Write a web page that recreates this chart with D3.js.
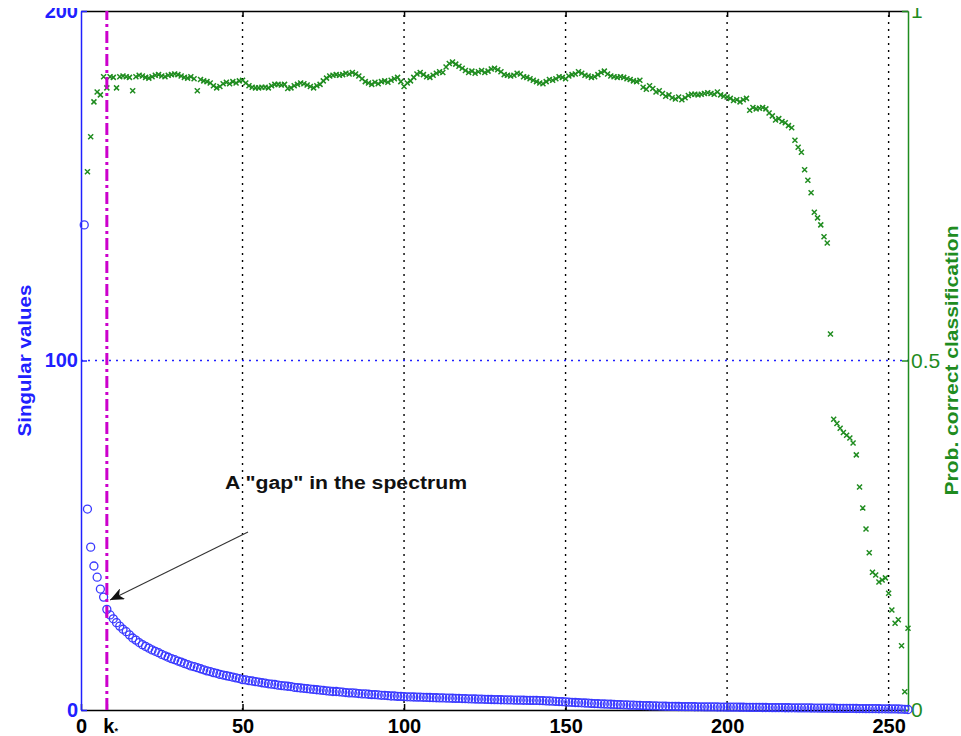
<!DOCTYPE html>
<html>
<head>
<meta charset="utf-8">
<script src="https://cdn.jsdelivr.net/npm/d3@7"></script>
<style>
  body { margin: 0; background: #fff; }
  text { font-family: "Liberation Sans", Arial, sans-serif; }
</style>
</head>
<body>
<div id="chart"></div>
<script>
// Singular values, index 1..256 (left axis)
const singularValues = [
  138.8, 57.5, 46.6, 41.2, 38.0, 34.6, 32.3, 28.8, 27.2, 26.1,
  25.0, 24.0, 23.1, 22.4, 21.5, 20.6, 20.0, 19.3, 18.7, 18.2,
  17.7, 17.2, 16.8, 16.4, 15.9, 15.5, 15.1, 14.7, 14.4, 14.0,
  13.7, 13.3, 13.0, 12.6, 12.4, 12.1, 11.8, 11.5, 11.2, 11.0,
  10.7, 10.5, 10.2, 10.0, 9.8, 9.6, 9.4, 9.2, 9.0, 8.7,
  8.6, 8.4, 8.3, 8.1, 8.0, 7.8, 7.7, 7.5, 7.4, 7.3,
  7.1, 7.0, 6.9, 6.8, 6.7, 6.5, 6.4, 6.3, 6.2, 6.1,
  6.0, 5.9, 5.8, 5.7, 5.6, 5.5, 5.4, 5.3, 5.3, 5.2,
  5.1, 5.0, 4.9, 4.9, 4.8, 4.7, 4.6, 4.6, 4.5, 4.4,
  4.4, 4.3, 4.2, 4.2, 4.1, 4.0, 4.0, 3.9, 3.9, 3.8,
  3.78, 3.75, 3.72, 3.69, 3.66, 3.63, 3.60, 3.57, 3.54, 3.51,
  3.48, 3.45, 3.42, 3.39, 3.36, 3.33, 3.30, 3.27, 3.24, 3.21,
  3.18, 3.15, 3.12, 3.09, 3.06, 3.03, 3.00, 2.97, 2.95, 2.93,
  2.91, 2.89, 2.87, 2.85, 2.83, 2.81, 2.79, 2.77, 2.76, 2.75,
  2.73, 2.70, 2.66, 2.62, 2.57, 2.52, 2.47, 2.42, 2.37, 2.32,
  2.25, 2.2, 2.15, 2.1, 2.05, 2.0, 1.95, 1.9, 1.85, 1.8,
  1.76, 1.72, 1.68, 1.64, 1.6, 1.56, 1.52, 1.48, 1.44, 1.4,
  1.37, 1.34, 1.31, 1.28, 1.25, 1.22, 1.19, 1.16, 1.13, 1.1,
  1.08, 1.06, 1.04, 1.02, 1.0, 0.98, 0.96, 0.95, 0.94, 0.93,
  0.92, 0.91, 0.9, 0.89, 0.88, 0.87, 0.86, 0.85, 0.84, 0.83,
  0.82, 0.81, 0.8, 0.79, 0.78, 0.77, 0.76, 0.75, 0.74, 0.73,
  0.72, 0.71, 0.7, 0.69, 0.68, 0.67, 0.66, 0.65, 0.64, 0.63,
  0.62, 0.61, 0.6, 0.59, 0.58, 0.57, 0.56, 0.55, 0.54, 0.53,
  0.52, 0.51, 0.5, 0.49, 0.48, 0.47, 0.46, 0.45, 0.44, 0.43,
  0.42, 0.41, 0.4, 0.39, 0.38, 0.37, 0.36, 0.35, 0.34, 0.33,
  0.32, 0.3, 0.28, 0.25, 0.2, 0.15
];

// Prob. correct classification, index 2..256 (right axis)
const probStart = 2;
const probCorrect = [
  .770, .820, .870, .884, .880, .906, .890, .906, .905, .890,
  .906, .907, .906, .905, .886, .906, .908, .907, .905,
  .904, .906, .908, .909, .907, .906, .908, .909, .910, .909,
  .907, .905, .904, .906, .903, .886, .902, .900, .899, .897,
  .893, .890, .892, .896, .898, .896, .899, .897, .900, .901,
  .897, .893, .891, .890, .890, .891, .891, .890, .893, .895,
  .895, .894, .895, .889, .890, .893, .895, .897, .896, .894,
  .892, .890, .893, .895, .900, .904, .907, .908, .909, .908,
  .909, .911, .910, .912, .910, .907, .903, .899, .897, .895,
  .898, .896, .899, .900, .898, .901, .903, .905, .899, .892,
  .897, .900, .905, .910, .912, .909, .906, .905, .908, .911,
  .913, .912, .920, .925, .927, .924, .921, .918, .915, .912,
  .914, .911, .913, .915, .912, .914, .917, .918, .916, .913,
  .909, .908, .907, .908, .911, .910, .906, .905, .903, .901,
  .899, .897, .896, .899, .902, .901, .903, .906, .905, .903,
  .907, .909, .910, .913, .911, .908, .907, .905, .906, .909,
  .912, .914, .910, .907, .906, .905, .906, .905, .903, .902,
  .900, .899, .901, .891, .888, .893, .889, .884, .886, .882,
  .878, .880, .876, .874, .877, .873, .876, .879, .881, .881,
  .880, .881, .882, .883, .882, .881, .884, .880, .878, .877,
  .875, .872, .873, .870, .873, .875, .858, .862, .860, .861,
  .862, .860, .854, .850, .844, .846, .842, .840, .836, .833,
  .815, .805, .798, .773, .758, .740, .712, .704, .694, .677,
  .668, .538, .416, .410, .403, .397, .393, .389, .382, .365,
  .319, .289, .259, .225, .197, .193, .183, .186, .189, .167,
  .143, .124, .129, .092, .026, .117
];

const kStar = 8;
const xTicks = [0, 8, 50, 100, 150, 200, 250];
const gridX = [50, 100, 150, 200, 250];
const leftTicks = [0, 100, 200];
const rightTicks = [0, 0.5, 1];
const gridLeftY = [100];

const width = 961, height = 736;
const margin = {top: 11, right: 53, bottom: 26, left: 81};

const blue = "#2020ff", green = "#1f8c1f";

const svg = d3.select("#chart").append("svg")
  .attr("width", width)
  .attr("height", height)
  .style("background", "#fff");

const x = d3.scaleLinear().domain([0, 256]).range([margin.left, width - margin.right]);
const yL = d3.scaleLinear().domain([0, 200]).range([height - margin.bottom, margin.top]);
const yR = d3.scaleLinear().domain([0, 1]).range([height - margin.bottom, margin.top]);

// labels near the top edge are cut in the original
svg.append("clipPath").attr("id", "topcut")
  .append("rect").attr("x", -2000).attr("y", 8).attr("width", 4000).attr("height", height);

// grid
svg.append("g").selectAll("line")
  .data(gridX)
  .join("line")
  .attr("x1", d => x(d)).attr("x2", d => x(d))
  .attr("y1", yL(0)).attr("y2", yL(200))
  .attr("stroke", "#000")
  .attr("stroke-width", 1.4)
  .attr("stroke-dasharray", "2,5");

svg.append("g").selectAll("line")
  .data(gridLeftY)
  .join("line")
  .attr("x1", x(0)).attr("x2", x(256))
  .attr("y1", d => yL(d)).attr("y2", d => yL(d))
  .attr("stroke", blue)
  .attr("stroke-width", 1.5)
  .attr("stroke-dasharray", "2,5");

// axes
const xAxis = svg.append("g")
  .attr("transform", `translate(0,${height - margin.bottom})`)
  .call(d3.axisBottom(x).tickValues(xTicks).tickSizeInner(-6).tickSizeOuter(0).tickPadding(9)
    .tickFormat(d => d === kStar ? "" : d));
xAxis.select(".domain").attr("stroke", "#000").attr("stroke-width", 1.5);
xAxis.selectAll(".tick line").attr("stroke", "#000").attr("stroke-width", 1.5);
xAxis.selectAll(".tick text")
  .attr("fill", "#000")
  .style("font-size", "20px")
  .style("font-weight", "bold")
  .each(function(d) {
    if (d === kStar) {
      const t = d3.select(this).attr("text-anchor", "start").attr("x", -4);
      t.append("tspan").text("k");
      t.append("tspan").text("*").style("font-size", "9px").attr("dy", "1");
    }
  });

const topAxis = svg.append("g")
  .attr("transform", `translate(0,${margin.top})`)
  .call(d3.axisTop(x).tickValues(gridX).tickSizeInner(-6).tickSizeOuter(0).tickFormat(""));
topAxis.select(".domain").attr("stroke", "#000").attr("stroke-width", 1.5);
topAxis.selectAll(".tick line").attr("stroke", "#000").attr("stroke-width", 1.5);

const leftAxis = svg.append("g")
  .attr("transform", `translate(${margin.left},0)`)
  .attr("clip-path", "url(#topcut)")
  .call(d3.axisLeft(yL).tickValues(leftTicks).tickSizeInner(-6).tickSizeOuter(0).tickPadding(3));
leftAxis.select(".domain").attr("stroke", blue).attr("stroke-width", 1.5);
leftAxis.selectAll(".tick line").attr("stroke", blue).attr("stroke-width", 1.5);
leftAxis.selectAll(".tick text")
  .attr("fill", blue)
  .style("font-size", "20px")
  .style("font-weight", "bold");

const rightAxis = svg.append("g")
  .attr("transform", `translate(${width - margin.right},0)`)
  .attr("clip-path", "url(#topcut)")
  .call(d3.axisRight(yR).tickValues(rightTicks).tickSizeInner(-6).tickSizeOuter(0).tickPadding(3)
    .tickFormat(d => d === 0.5 ? "0.5" : d3.format("d")(d)));
rightAxis.select(".domain").attr("stroke", green).attr("stroke-width", 1.5);
rightAxis.selectAll(".tick line").attr("stroke", green).attr("stroke-width", 1.5);
rightAxis.selectAll(".tick text")
  .attr("fill", green)
  .style("font-size", "21px");

// axis titles
svg.append("text")
  .attr("transform", `translate(31,${yL(100)}) rotate(-90)`)
  .attr("text-anchor", "middle")
  .attr("textLength", 152)
  .attr("lengthAdjust", "spacingAndGlyphs")
  .attr("fill", blue)
  .style("font-size", "18px")
  .style("font-weight", "bold")
  .text("Singular values");

svg.append("text")
  .attr("transform", `translate(958,${yR(0.5)}) rotate(-90)`)
  .attr("text-anchor", "middle")
  .attr("textLength", 270)
  .attr("lengthAdjust", "spacingAndGlyphs")
  .attr("fill", green)
  .style("font-size", "18px")
  .style("font-weight", "bold")
  .text("Prob. correct classification");

// singular values (circles)
svg.append("g").selectAll("circle")
  .data(singularValues)
  .join("circle")
  .attr("cx", (d, i) => x(i + 1))
  .attr("cy", d => yL(d))
  .attr("r", 4)
  .attr("fill", "none")
  .attr("stroke", "#3a3aff")
  .attr("stroke-width", 1.3);

// probability (x markers)
svg.append("g").selectAll("path")
  .data(probCorrect)
  .join("path")
  .attr("transform", (d, i) => `translate(${x(i + probStart)},${yR(d)})`)
  .attr("d", "M-2.5,-2.5L2.5,2.5M-2.5,2.5L2.5,-2.5")
  .attr("stroke", green)
  .attr("stroke-width", 1.5)
  .attr("fill", "none");

// k* line
svg.append("line")
  .attr("x1", x(kStar)).attr("x2", x(kStar))
  .attr("y1", yL(0)).attr("y2", yL(200))
  .attr("stroke", "#cc00cc")
  .attr("stroke-width", 3)
  .attr("stroke-dasharray", "12,4,3,4");

// annotation
svg.append("defs").append("marker")
  .attr("id", "arrowhead")
  .attr("markerUnits", "userSpaceOnUse")
  .attr("markerWidth", 16).attr("markerHeight", 12)
  .attr("refX", 14).attr("refY", 6)
  .attr("orient", "auto")
  .append("path")
  .attr("d", "M0,0L14,6L0,12L4,6Z")
  .attr("fill", "#111");

svg.append("line")
  .attr("x1", x(51.7)).attr("y1", yL(50.9))
  .attr("x2", x(9.0)).attr("y2", yL(31.5))
  .attr("stroke", "#333")
  .attr("stroke-width", 1.1)
  .attr("marker-end", "url(#arrowhead)");

svg.append("text")
  .attr("x", x(44.6))
  .attr("y", yL(63.2))
  .attr("textLength", 242)
  .attr("lengthAdjust", "spacingAndGlyphs")
  .attr("fill", "#111")
  .style("font-size", "18px")
  .style("font-weight", "bold")
  .text('A "gap" in the spectrum');
</script>
</body>
</html>
